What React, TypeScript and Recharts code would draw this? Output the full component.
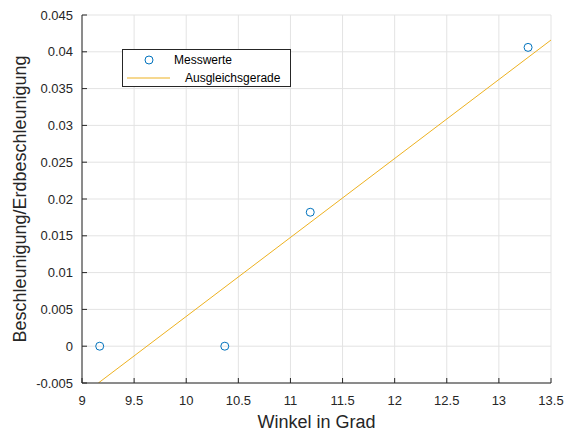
import React from 'react';
import {
  ComposedChart,
  Scatter,
  Line,
  XAxis,
  YAxis,
  CartesianGrid,
  Legend,
} from 'recharts';

// Messwerte (angle in degrees, a/g)
const winkel = [9.17, 10.37, 11.19, 13.28];
const beschleunigung = [0, 0, 0.0182, 0.0406];

// Ausgleichsgerade, clipped to the axes
const fitX = [9.157, 13.5];
const fitY = [-0.005, 0.0416];

const xTicks = [9, 9.5, 10, 10.5, 11, 11.5, 12, 12.5, 13, 13.5];
const yTicks = [-0.005, 0, 0.005, 0.01, 0.015, 0.02, 0.025, 0.03, 0.035, 0.04, 0.045];

const messData = winkel.map((x, i) => ({ x, y: beschleunigung[i] }));
const fitData = fitX.map((x, i) => ({ x, y: fitY[i] }));

const BLUE = '#0072BD';
const YELLOW = '#EDB120';
const AXIS = '#262626';
const FONT = 'Liberation Sans, Arial, Helvetica, sans-serif';

const XTick = (props: any) => {
  const { x, y, payload } = props;
  return (
    <g>
      <line x1={x} x2={x} y1={y} y2={y - 5} stroke={AXIS} strokeWidth={1} />
      <text x={x} y={y + 17} textAnchor="middle" dominantBaseline="central" fontSize={13} fill={AXIS} fontFamily={FONT}>
        {String(payload.value)}
      </text>
    </g>
  );
};

const YTick = (props: any) => {
  const { x, y, payload } = props;
  return (
    <g>
      <line x1={x} x2={x + 5} y1={y} y2={y} stroke={AXIS} strokeWidth={1} />
      <text x={x - 9} y={y} textAnchor="end" dominantBaseline="central" fontSize={13} fill={AXIS} fontFamily={FONT}>
        {String(payload.value)}
      </text>
    </g>
  );
};

const Marker = (props: any) => {
  const { cx, cy } = props;
  return <circle cx={cx} cy={cy} r={4} fill="none" stroke={BLUE} strokeWidth={1} />;
};

const LegendBox = () => (
  <div
    style={{
      width: 167,
      height: 36,
      border: `1px solid ${AXIS}`,
      background: '#fff',
      fontFamily: FONT,
      fontSize: 12,
      color: '#000',
      position: 'relative',
    }}
  >
    <svg width={167} height={36} style={{ position: 'absolute', left: 0, top: 0 }}>
      <circle cx={26} cy={10} r={4} fill="none" stroke={BLUE} strokeWidth={1} />
      <line x1={4} x2={47} y1={28} y2={28} stroke={YELLOW} strokeWidth={1} />
    </svg>
    <div style={{ position: 'absolute', left: 51, top: 3, lineHeight: '14px' }}>Messwerte</div>
    <div style={{ position: 'absolute', left: 62, top: 21, lineHeight: '14px' }}>Ausgleichsgerade</div>
  </div>
);

const App = () => {
  return (
    <div style={{ position: 'absolute', left: 0, top: 0, width: 566, height: 434, background: '#fff' }}>
      <ComposedChart
        width={566}
        height={434}
        margin={{ top: 15, right: 15, left: 0, bottom: 0 }}
      >
        <CartesianGrid stroke="#e3e3e3" strokeWidth={1} />
        <XAxis
          type="number"
          dataKey="x"
          domain={[9, 13.5]}
          ticks={xTicks}
          allowDataOverflow
          height={51}
          tickSize={0}
          tickMargin={0}
          tickLine={false}
          stroke={AXIS}
          tick={<XTick />}
          label={{
            content: (p: any) => {
              const vb = p.viewBox;
              return (
                <text x={vb.x + vb.width / 2} y={422} textAnchor="middle" dominantBaseline="central" fontSize={18} fill={AXIS} fontFamily={FONT}>
                  Winkel in Grad
                </text>
              );
            },
          }}
        />
        <YAxis
          type="number"
          dataKey="y"
          domain={[-0.005, 0.045]}
          ticks={yTicks}
          allowDataOverflow
          width={82}
          tickSize={0}
          tickMargin={0}
          tickLine={false}
          stroke={AXIS}
          tick={<YTick />}
          label={{
            content: (p: any) => {
              const vb = p.viewBox;
              const cy = vb.y + vb.height / 2;
              return (
                <text x={20} y={cy} transform={`rotate(-90, 20, ${cy})`} textAnchor="middle" dominantBaseline="central" fontSize={18} fill={AXIS} fontFamily={FONT}>
                  Beschleunigung/Erdbeschleunigung
                </text>
              );
            },
          }}
        />
        <Legend
          layout="vertical"
          align="center"
          verticalAlign="middle"
          content={() => <LegendBox />}
          wrapperStyle={{ left: 122, top: 49, width: 169, height: 38 }}
        />
        <Line
          data={fitData}
          dataKey="y"
          type="linear"
          stroke={YELLOW}
          strokeWidth={1}
          dot={false}
          activeDot={false}
          isAnimationActive={false}
          name="Ausgleichsgerade"
        />
        <Scatter
          data={messData}
          dataKey="y"
          shape={<Marker />}
          isAnimationActive={false}
          name="Messwerte"
        />
      </ComposedChart>
    </div>
  );
};

export default App;
